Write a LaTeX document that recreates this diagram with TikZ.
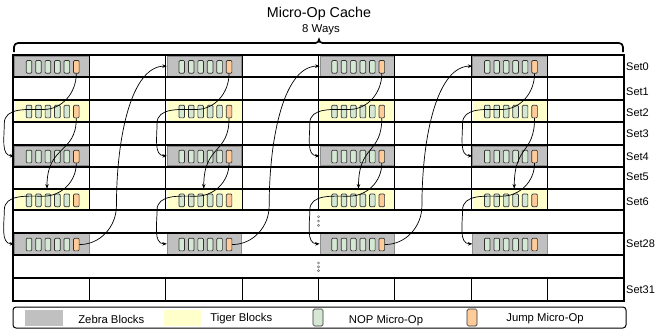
\documentclass[tikz,border=0pt]{standalone}
\usepackage{fontspec}
\setmainfont{Liberation Sans}
\usetikzlibrary{arrows.meta}
\definecolor{zebrafill}{HTML}{C0C0C0}
\definecolor{zebraline}{HTML}{8C8C8C}
\definecolor{tigerfill}{HTML}{FFFFCC}
\definecolor{nopfill}{HTML}{D5E8D4}
\definecolor{jmpfill}{HTML}{FFCC99}
\definecolor{uopline}{HTML}{333333}
\begin{document}
\begin{tikzpicture}[x=1pt,y=1pt,
  zebra/.style={draw=zebraline, fill=zebrafill, line width=0.8pt, inner sep=0pt, minimum width=74.4pt},
  tiger/.style={fill=tigerfill, draw=none, inner sep=0pt, minimum width=74.4pt},
  uop/.style={draw=uopline, line width=0.7pt, rounded corners=1pt, inner sep=0pt, minimum width=5.6pt, minimum height=12.6pt},
  nop/.style={uop, fill=nopfill},
  jmp/.style={uop, fill=jmpfill},
  arr/.style={draw, line width=0.7pt, -{Stealth[length=4.5pt,width=3.5pt]}},
  gridh/.style={line width=1.8pt},
  gridv/.style={line width=1.1pt},
  setlbl/.style={anchor=base west, inner sep=0pt, font=\fontsize{11}{13}\selectfont},
  legtxt/.style={anchor=base, inner sep=0pt, font=\fontsize{11.3}{13}\selectfont},
]
\useasboundingbox (0,0) rectangle (669,-333);

% title and brace
\node[anchor=base, inner sep=0pt, font=\fontsize{14.3}{17}\selectfont] (title) at (319,-17.5) {Micro-Op Cache};
\node[anchor=base, inner sep=0pt, font=\fontsize{11.4}{13}\selectfont] (ways) at (321,-32.3) {8 Ways};
\draw[line width=1.7pt] (14,-52) -- (14,-47) to[out=90,in=180] (18,-43) -- (315.5,-43)
  to[out=0,in=-90] (319,-39.5) to[out=-90,in=180] (322.5,-43) -- (619,-43)
  to[out=0,in=90] (623,-47) -- (623,-52);

% blocks
\foreach \g in {0,1,2,3} {
  \pgfmathsetmacro{\cx}{13+2*\g*76.375}
  \foreach \r/\yc/\hh/\sty in {0/66.15/20.3/zebra, 2/110.85/19.7/tiger, 4/155.85/19.7/zebra, 6/199.65/18.7/tiger, 8/243.85/20.3/zebra}
    \node[\sty, minimum height=\hh pt] (b\g-\r) at (\cx+38.7,-\yc) {};
}

% grid
\draw[line width=2pt] (13,-55) rectangle (624,-301);
\foreach \y in {77.3,100,121.7,145,166.7,189.3,210,232.7,255,278.3}
  \draw[gridh] (13,-\y) -- (624,-\y);
\foreach \k in {1,...,7} {
  \draw[gridv] (13+\k*76.375,-55) -- (13+\k*76.375,-210);
  \draw[gridv] (13+\k*76.375,-278.3) -- (13+\k*76.375,-301);
}

% dots
\foreach \y in {216.7,221,225.3,263,266.8,270.6}
  \draw[black!55, line width=0.5pt] (318.5,-\y) circle (1.1);

% micro-ops
\foreach \g in {0,1,2,3} {
  \pgfmathsetmacro{\cx}{13+2*\g*76.375}
  \foreach \r/\yc in {0/66.15, 2/110.85, 4/155.85, 6/199.65, 8/243.85} {
    \foreach \k in {0,...,4}
      \node[nop] (n\g-\r-\k) at (\cx+16+\k*9.46,-\yc-0.7) {};
    \node[jmp] (j\g-\r) at (\cx+63.3,-\yc-0.7) {};
  }
}

% jumps
\foreach \g/\bx in {0/-4.7, 1/-0.7, 2/1.3, 3/4.3} {
  \draw[arr] (j\g-0.south) to[out=-90,in=0] ++(-33,-36) to[out=180,in=90] ++(-39,-14)
    to[out=-90,in=180] (b\g-4.west);
  \draw[arr] (j\g-2.south) .. controls +(0,-36) and +(0,44) .. ([xshift=\bx pt, yshift=1.5pt]b\g-6.north);
  \draw[arr] (j\g-4.south) to[out=-90,in=0] ++(-33,-33) to[out=180,in=90] ++(-39,-14)
    to[out=-90,in=180] (b\g-8.west);
}
\foreach \g/\h in {0/1,1/2,2/3}
  \draw[arr] (j\g-8.east) to[out=0,in=-90] ++(37,39) .. controls +(0,70) and +(-35,0) .. (b\h-0.west);

% set labels
\foreach \n/\y in {0/70.7, 1/95.7, 2/116, 3/137.7, 4/160.7, 5/180.7, 6/205.5, 28/247, 31/293.3}
  \node[setlbl] (set\n) at (626,-\y) {Set\n};

% legend
\node[draw, line width=1pt, rounded corners=3pt, inner sep=0pt, minimum width=613pt, minimum height=21pt] (legend) at (319.5,-317.5) {};
\node[fill=zebrafill, inner sep=0pt, minimum width=38.5pt, minimum height=16pt] (lz) at (43.75,-317.5) {};
\node[legtxt] (lzt) at (111.3,-323) {Zebra Blocks};
\node[fill=tigerfill, inner sep=0pt, minimum width=37pt, minimum height=16pt] (lt) at (182.5,-317.5) {};
\node[legtxt] (ltt) at (241.3,-321.5) {Tiger Blocks};
\node[nop, minimum width=10pt, minimum height=17pt, rounded corners=1.5pt] (ln) at (318,-317.5) {};
\node[legtxt] (lnt) at (386,-323) {NOP Micro-Op};
\node[jmp, minimum width=10pt, minimum height=17pt, rounded corners=1.5pt] (lj) at (472,-317.5) {};
\node[legtxt] (ljt) at (545,-321.5) {Jump Micro-Op};
\end{tikzpicture}
\end{document}
